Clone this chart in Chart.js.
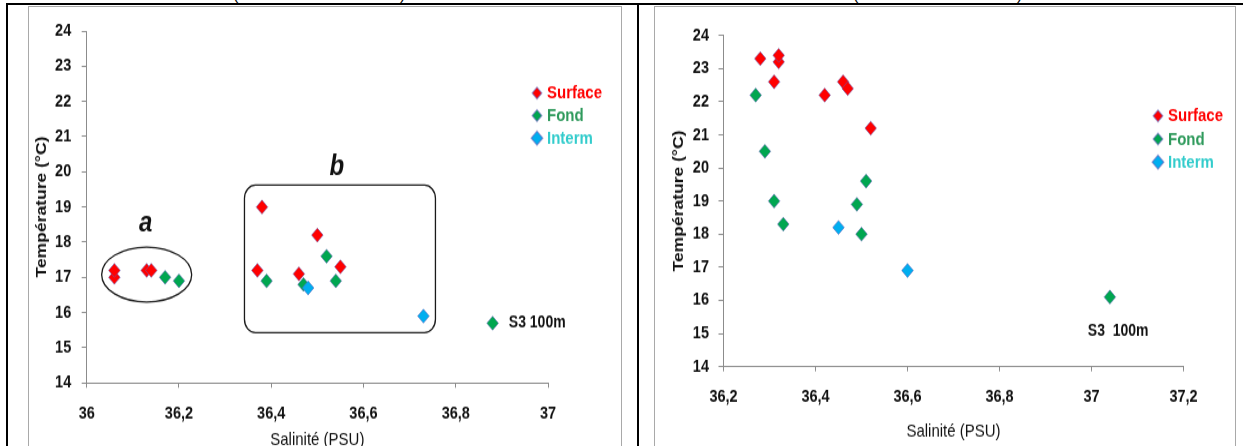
<!DOCTYPE html>
<html>
<head>
<meta charset="utf-8">
<title>Température / Salinité</title>
<script src="https://cdn.jsdelivr.net/npm/chart.js@4.4.1/dist/chart.umd.min.js"></script>
<style>
  html, body { margin: 0; padding: 0; background: #fff; }
  body { position: relative; width: 1243px; height: 446px; overflow: hidden; }
  .rule { position: absolute; background: #000; }
  .frame { position: absolute; border: 1px solid #a9a9a9; box-sizing: border-box; background: #fff; }
  .stretch { position: absolute; transform-origin: 0 0; transform: scaleY(1.2); }
  .cap { position: absolute; font: 16px 'Liberation Sans', sans-serif; line-height: 16px; color: #000; }
</style>
</head>
<body>
<span class="cap" style="left:233px;top:-13px">(</span>
<span class="cap" style="left:400px;top:-13px">)</span>
<span class="cap" style="left:853px;top:-13px">(</span>
<span class="cap" style="left:1017px;top:-13px">)</span>

<div class="frame" style="left:28px;top:6px;width:594px;height:450px"></div>
<div class="frame" style="left:654px;top:6px;width:582px;height:450px"></div>

<div class="stretch" style="left:29px;top:7px"><canvas id="chartA" width="591" height="380"></canvas></div>
<div class="stretch" style="left:655px;top:7px"><canvas id="chartB" width="579" height="380"></canvas></div>

<div class="rule" style="left:6px;top:3px;width:1237px;height:2px"></div>
<div class="rule" style="left:6px;top:3px;width:2px;height:443px"></div>
<div class="rule" style="left:637px;top:3px;width:2px;height:443px"></div>

<script>
// ---- Panel A : salinité / température ----
const surfaceSalA  = [36.06, 36.06, 36.13, 36.14, 36.37, 36.38, 36.46, 36.50, 36.55];
const surfaceTempA = [17.0, 17.2, 17.2, 17.2, 17.2, 19.0, 17.1, 18.2, 17.3];
const fondSalA     = [36.17, 36.20, 36.39, 36.47, 36.52, 36.54, 36.88];
const fondTempA    = [17.0, 16.9, 16.9, 16.8, 17.6, 16.9, 15.7];
const intermSalA   = [36.48, 36.73];
const intermTempA  = [16.7, 15.9];
const xTicksA      = [36, 36.2, 36.4, 36.6, 36.8, 37];
const xTickLabelsA = ['36', '36,2', '36,4', '36,6', '36,8', '37'];

// ---- Panel B : salinité / température ----
const surfaceSalB  = [36.28, 36.32, 36.32, 36.31, 36.42, 36.46, 36.47, 36.52];
const surfaceTempB = [23.3, 23.2, 23.4, 22.6, 22.2, 22.6, 22.4, 21.2];
const fondSalB     = [36.27, 36.29, 36.31, 36.33, 36.51, 36.49, 36.50, 37.04];
const fondTempB    = [22.2, 20.5, 19.0, 18.3, 19.6, 18.9, 18.0, 16.1];
const intermSalB   = [36.45, 36.60];
const intermTempB  = [18.2, 16.9];
const xTicksB      = [36.2, 36.4, 36.6, 36.8, 37, 37.2];
const xTickLabelsB = ['36,2', '36,4', '36,6', '36,8', '37', '37,2'];

const yTicks       = [14, 15, 16, 17, 18, 19, 20, 21, 22, 23, 24];
const seriesNames  = ['Surface', 'Fond', 'Interm'];

const markerColors = ['#ff0000', '#00a650', '#00aeef'];
const legendTextColors = ['#ff0000', '#2f9a5c', '#33cccc'];
const AXIS_GREY = '#8c8c8c';
const FAMILY = "'Liberation Sans', Arial, sans-serif";
const TICK_FONT = { family: FAMILY, size: 14.5, weight: 'bold' };

function pairs(xs, ys) { return xs.map((v, i) => ({ x: v, y: ys[i] })); }

function makeDatasets(sal, temp) {
  return seriesNames.map((name, i) => ({
    label: name,
    data: pairs(sal[i], temp[i]),
    order: 3 - i,
    pointStyle: 'rectRot',
    pointRadius: 5.8,
    pointBorderWidth: 1,
    pointBorderColor: 'rgba(95,95,185,0.55)',
    pointBackgroundColor: markerColors[i],
    showLine: false
  }));
}

// Draws the legend, the grouping shapes and the free text labels.
const decorPlugin = {
  id: 'decor',
  afterDatasetsDraw(chart, args, opts) {
    const { ctx } = chart;
    const xs = chart.scales.x, ys = chart.scales.y;
    const px = v => xs.getPixelForValue(v);
    const py = v => ys.getPixelForValue(v);
    ctx.save();
    ctx.strokeStyle = '#1a1a1a';
    ctx.lineWidth = 1.3;
    (opts.ellipses || []).forEach(e => {
      const cx = px(e.x), cy = py(e.y);
      const rx = Math.abs(px(e.x + e.rx) - cx), ry = Math.abs(py(e.y + e.ry) - cy);
      ctx.beginPath();
      ctx.ellipse(cx, cy, rx, ry, 0, 0, Math.PI * 2);
      ctx.stroke();
    });
    (opts.boxes || []).forEach(b => {
      const x0 = px(b.x0), x1 = px(b.x1), y0 = py(b.y1), y1 = py(b.y0);
      ctx.beginPath();
      ctx.roundRect(x0, y0, x1 - x0, y1 - y0, b.radius);
      ctx.stroke();
    });
    (opts.texts || []).forEach(t => {
      ctx.font = t.font;
      ctx.fillStyle = t.color || '#111';
      ctx.textAlign = t.align || 'center';
      ctx.textBaseline = 'middle';
      ctx.fillText(t.text, px(t.x), py(t.y));
    });
    const lg = opts.legend;
    if (lg) {
      chart.data.datasets.forEach((ds, i) => {
        const y = lg.y + i * lg.gap;
        ctx.fillStyle = ds.pointBackgroundColor;
        ctx.strokeStyle = ds.pointBorderColor;
        Chart.helpers.drawPoint(ctx, { pointStyle: 'rectRot', radius: lg.radii[i], borderWidth: 1, rotation: 0 }, lg.x, y);
        ctx.font = 'bold 15px ' + FAMILY;
        ctx.fillStyle = legendTextColors[i];
        ctx.textAlign = 'left';
        ctx.textBaseline = 'middle';
        ctx.fillText(ds.label, lg.x + 10, y + 0.5);
      });
    }
    ctx.restore();
  }
};

function makeChart(id, cfg) {
  return new Chart(document.getElementById(id), {
    type: 'scatter',
    data: { datasets: makeDatasets(cfg.sal, cfg.temp) },
    plugins: [decorPlugin],
    options: {
      responsive: false,
      devicePixelRatio: 1,
      animation: false,
      events: [],
      layout: { padding: { left: 0, top: cfg.padTop, right: cfg.padRight, bottom: 0 } },
      plugins: {
        legend: { display: false },
        tooltip: { enabled: false },
        decor: cfg.decor
      },
      scales: {
        x: {
          type: 'linear',
          min: cfg.xTicks[0],
          max: cfg.xTicks[cfg.xTicks.length - 1],
          afterBuildTicks: s => { s.ticks = cfg.xTicks.map(v => ({ value: v })); },
          afterFit: s => { s.height = cfg.xHeight; },
          grid: { display: true, drawOnChartArea: false, drawTicks: true, tickLength: 4, color: AXIS_GREY, lineWidth: 1 },
          border: { display: true, color: AXIS_GREY, width: 1 },
          ticks: {
            autoSkip: false, maxRotation: 0, padding: cfg.xTickPad, color: '#111', font: TICK_FONT,
            callback: (v, i) => cfg.xLabels[i]
          },
          title: {
            display: true, text: 'Salinité (PSU)', color: '#111',
            font: { family: FAMILY, size: 15 },
            padding: { top: 0, bottom: cfg.xTitlePad }
          }
        },
        y: {
          type: 'linear',
          min: yTicks[0],
          max: yTicks[yTicks.length - 1],
          afterBuildTicks: s => { s.ticks = yTicks.map(v => ({ value: v })); },
          afterFit: s => { s.width = cfg.yWidth; },
          grid: { display: true, drawOnChartArea: false, drawTicks: true, tickLength: 5, color: AXIS_GREY, lineWidth: 1 },
          border: { display: true, color: AXIS_GREY, width: 1 },
          ticks: { autoSkip: false, padding: cfg.yTickPad, color: '#111', font: TICK_FONT,
                   callback: v => String(v) },
          title: {
            display: true, text: 'Température (°C)', color: '#111',
            font: { family: FAMILY, size: 14.6, weight: 'bold' },
            padding: { top: cfg.yTitlePad, bottom: 0 }
          }
        }
      }
    }
  });
}

makeChart('chartA', {
  sal: [surfaceSalA, fondSalA, intermSalA],
  temp: [surfaceTempA, fondTempA, intermTempA],
  xTicks: xTicksA, xLabels: xTickLabelsA,
  padTop: 20, padRight: 72, yWidth: 57.7, xHeight: 66.7,
  xTickPad: 13, xTitlePad: 10.2, yTickPad: 10.5, yTitlePad: 4.2,
  decor: {
    ellipses: [{ x: 36.130, y: 17.08, rx: 0.0976, ry: 0.782 }],
    boxes: [{ x0: 36.342, x1: 36.756, y0: 15.43, y1: 19.62, radius: 11 }],
    texts: [
      { text: 'a', x: 36.128, y: 18.53, font: 'italic bold 24px ' + FAMILY },
      { text: 'b', x: 36.542, y: 20.12, font: 'italic bold 24px ' + FAMILY },
      { text: 'S3 100m', x: 36.915, y: 15.72, align: 'left', font: 'bold 14px ' + FAMILY }
    ],
    legend: { x: 508, y: 71.7, gap: 18.75, radii: [4.8, 4.8, 5.8] }
  }
});

makeChart('chartB', {
  sal: [surfaceSalB, fondSalB, intermSalB],
  temp: [surfaceTempB, fondTempB, intermTempB],
  xTicks: xTicksB, xLabels: xTickLabelsB,
  padTop: 23.75, padRight: 50.5, yWidth: 68.5, xHeight: 80.4,
  xTickPad: 12.8, xTitlePad: 17.2, yTickPad: 9.5, yTitlePad: 15.2,
  decor: {
    texts: [
      { text: 'S3  100m', x: 37.058, y: 15.05, align: 'center', font: 'bold 14px ' + FAMILY }
    ],
    legend: { x: 503, y: 90.8, gap: 19.2, radii: [4.8, 4.8, 5.8] }
  }
});
</script>
</body>
</html>
